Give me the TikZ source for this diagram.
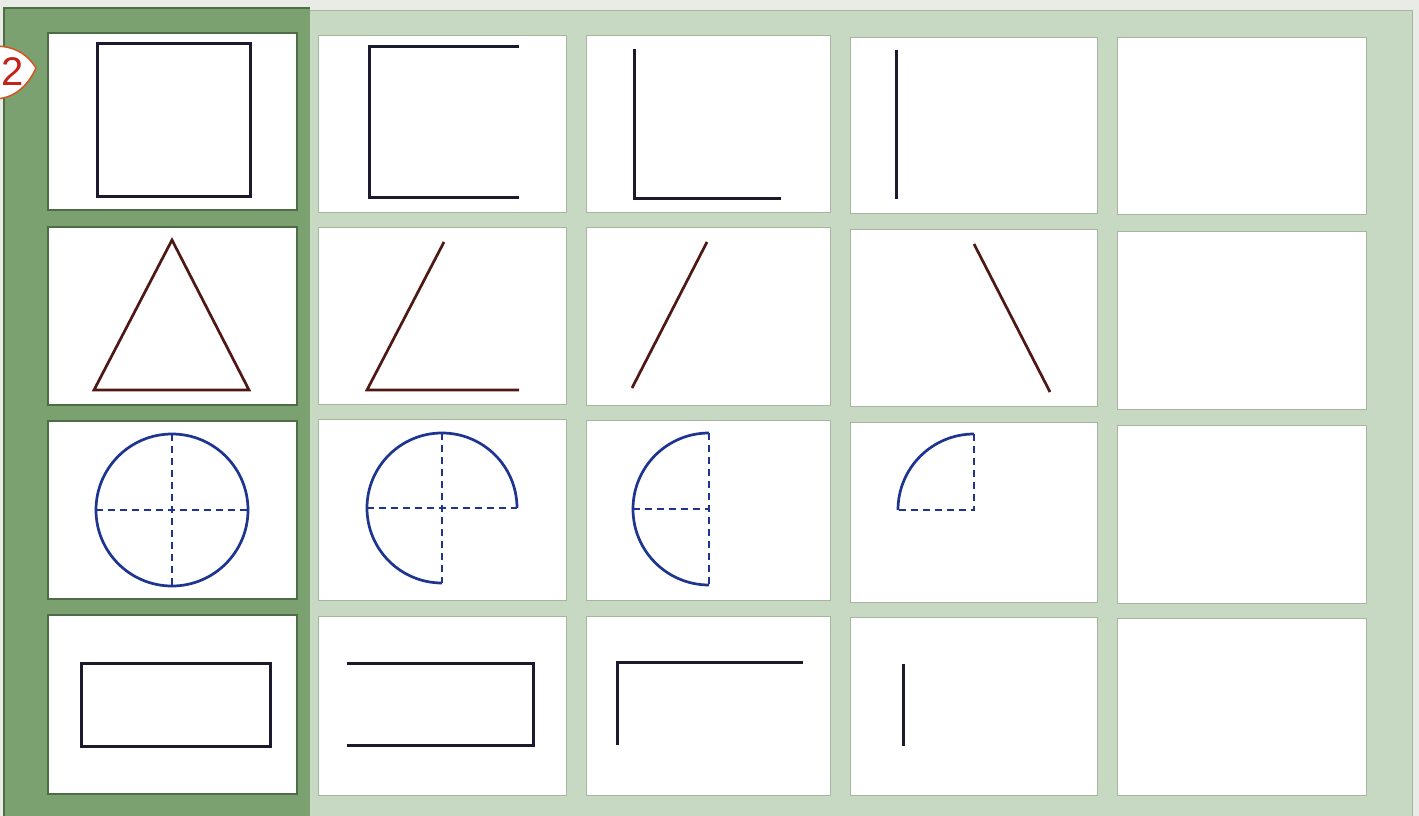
\documentclass[tikz,border=0pt]{standalone}
\usepackage{fontspec}
\setmainfont{Liberation Sans}
\definecolor{bgout}{HTML}{E9ECE6}
\definecolor{lightgreen}{HTML}{C7D9C2}
\definecolor{darkgreen}{HTML}{7AA16F}
\definecolor{darkedge}{HTML}{4E6D47}
\definecolor{lightedge}{HTML}{A6B59E}
\definecolor{inkdark}{HTML}{1B1B2D}
\definecolor{inkred}{HTML}{4E1814}
\definecolor{inkblue}{HTML}{1E3590}
\definecolor{badgeline}{HTML}{D4561F}
\definecolor{badgetext}{HTML}{C4221A}
\begin{document}
\begin{tikzpicture}[x=1pt,y=-1pt,
  dcell/.style={fill=white, draw=darkedge, line width=1.2pt},
  lcell/.style={fill=white, draw=lightedge, line width=0.8pt},
  inkA/.style={draw=inkdark, line width=3pt, line join=miter, line cap=butt},
  inkB/.style={draw=inkred, line width=2.7pt, line join=miter, line cap=butt},
  inkC/.style={draw=inkblue, line width=2.7pt, line cap=butt},
  dashC/.style={draw=inkblue, line width=2.3pt, dash pattern=on 7pt off 5pt}]
\useasboundingbox (0,0) rectangle (1419,816);
% background
\fill[bgout] (0,0) rectangle (1419,816);
\fill[lightgreen] (306,10) rectangle (1412,816);
\draw[lightedge, line width=0.8pt] (306,10) -- (1412,10) -- (1412,816);
\fill[darkgreen] (4,8) rectangle (310,816);
\draw[darkedge, line width=1.2pt] (4,816) -- (4,8) -- (310,8);
% column 1 cells (dark panel)
\draw[dcell] (48,33) rectangle (297,210);
\draw[dcell] (48,227) rectangle (297,405);
\draw[dcell] (48,421) rectangle (297,599);
\draw[dcell] (48,615) rectangle (297,794);
% column 2
\draw[lcell] (318,35) rectangle (566,212);
\draw[lcell] (318,227) rectangle (566,404);
\draw[lcell] (318,419) rectangle (566,600);
\draw[lcell] (318,616) rectangle (566,795);
% column 3
\draw[lcell] (586,35) rectangle (830,212);
\draw[lcell] (586,227) rectangle (830,405);
\draw[lcell] (586,420) rectangle (830,600);
\draw[lcell] (586,616) rectangle (830,795);
% column 4
\draw[lcell] (850,37) rectangle (1097,213);
\draw[lcell] (850,229) rectangle (1097,406);
\draw[lcell] (850,422) rectangle (1097,602);
\draw[lcell] (850,617) rectangle (1097,795);
% column 5
\draw[lcell] (1117,37) rectangle (1366,214);
\draw[lcell] (1117,231) rectangle (1366,409);
\draw[lcell] (1117,425) rectangle (1366,603);
\draw[lcell] (1117,618) rectangle (1366,795);
% row 1 : square
\draw[inkA] (97,44) rectangle (250,196);
\draw[inkA] (519,47) -- (369,47) -- (369,197) -- (519,197);
\draw[inkA] (634,49) -- (634,198) -- (781,198);
\draw[inkA] (896,50) -- (896,199);
% row 2 : triangle
\draw[inkB] (172,240) -- (249,390) -- (94,390) -- cycle;
\draw[inkB] (444,242) -- (367,390) -- (519,390);
\draw[inkB] (707,242) -- (632,388);
\draw[inkB] (974,244) -- (1050,392);
% row 3 : circle
\draw[inkC] (172,510) circle[radius=76];
\draw[dashC] (96,510) -- (248,510);
\draw[dashC] (172,434) -- (172,586);
\draw[inkC] (517,508) arc[start angle=0, end angle=-270, radius=75];
\draw[dashC] (367,508) -- (517,508);
\draw[dashC] (442,433) -- (442,583);
\draw[inkC] (709,433) arc[start angle=-90, end angle=-270, radius=76];
\draw[dashC] (709,433) -- (709,585);
\draw[dashC] (633,509) -- (709,509);
\draw[inkC] (974,434) arc[start angle=-90, end angle=-180, radius=76];
\draw[dashC] (974,434) -- (974,510) -- (898,510);
% row 4 : rectangle
\draw[inkA] (81,663) rectangle (270,746);
\draw[inkA] (347,663) -- (533,663) -- (533,745) -- (347,745);
\draw[inkA] (803,662) -- (617,662) -- (617,745);
\draw[inkA] (903,664) -- (903,746);
% badge
\draw[badgeline, fill=white, line width=1.5pt]
  (36,68) .. controls (26,52) and (12,46) .. (-6,46) -- (-6,99)
  .. controls (12,99) and (27,88) .. (36,68);
\node[text=badgetext, font=\fontsize{40}{40}\selectfont, inner sep=0pt] (num) at (13,72) {2};
\end{tikzpicture}
\end{document}
